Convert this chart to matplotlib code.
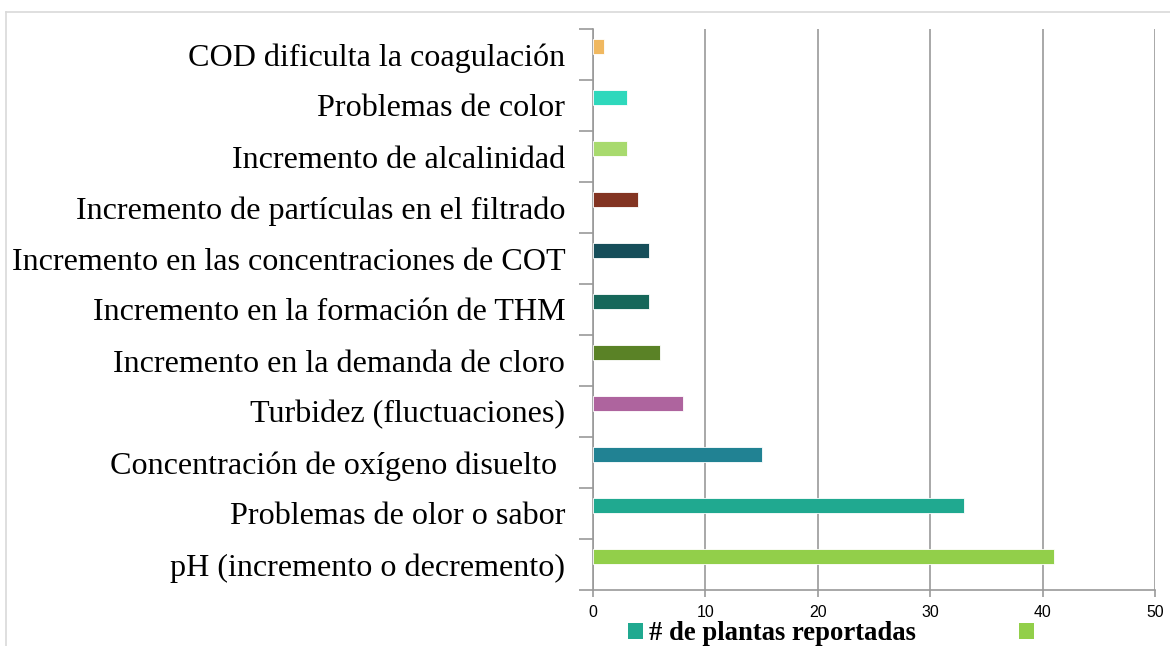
import matplotlib
matplotlib.use("Agg")
import matplotlib.pyplot as plt
from matplotlib.patches import Patch
from matplotlib.lines import Line2D

categories = [
    "pH (incremento o decremento)",
    "Problemas de olor o sabor",
    "Concentración de oxígeno disuelto ",
    "Turbidez (fluctuaciones)",
    "Incremento en la demanda de cloro",
    "Incremento en la formación de THM",
    "Incremento en las concentraciones de COT",
    "Incremento de partículas en el filtrado",
    "Incremento de alcalinidad",
    "Problemas de color",
    "COD dificulta la coagulación",
]
values = [41, 33, 15, 8, 6, 5, 5, 4, 3, 3, 1]
colors = ["#92CF4A", "#20A990", "#218293", "#AE649E", "#5A8226", "#16675A",
          "#164E5A", "#833422", "#A8DA6E", "#2ED8BC", "#F0B860"]
series_label = "# de plantas reportadas"
x_ticks = [0, 10, 20, 30, 40, 50]

fig = plt.figure(figsize=(11.7, 6.46), dpi=100)
ax = fig.add_axes([593/1170, 1-590/646, (1155-593)/1170, (590-29)/646])

pos = [i + 0.157 for i in range(len(categories))]
ax.barh(pos, values, height=0.29, color=colors, edgecolor="white", linewidth=0.6, zorder=3)

ax.set_xlim(0, 50)
ax.set_ylim(-0.5, len(categories) - 0.5)
ax.set_xticks(x_ticks)
ax.set_xticklabels([str(t) for t in x_ticks], fontfamily="Liberation Sans", fontsize=11.4)
ax.set_yticks(range(len(categories)))
ax.set_yticklabels(categories, fontfamily="Liberation Serif", fontsize=23.1)
ax.set_yticks([i - 0.5 for i in range(len(categories) + 1)], minor=True)
ax.tick_params(axis="y", which="major", length=0, pad=20)
ax.tick_params(axis="y", which="minor", length=10, color="#999999", width=1.2)
ax.tick_params(axis="x", which="major", length=5, color="#999999", width=1.2, pad=6)
ax.xaxis.grid(True, color="#999999", linewidth=1.2, zorder=0)
for s in ["top", "right"]:
    ax.spines[s].set_visible(False)
ax.spines["left"].set_color("#999999")
ax.spines["left"].set_linewidth(1.2)
ax.spines["bottom"].set_color("#999999")
ax.spines["bottom"].set_linewidth(1.2)

# outer border
fig.add_artist(Line2D([6/1170, 6/1170], [0, 1-12/646], transform=fig.transFigure, color="#D9D9D9", lw=1.2))
fig.add_artist(Line2D([6/1170, 1], [1-12/646, 1-12/646], transform=fig.transFigure, color="#D9D9D9", lw=1.2))

handles = [Patch(facecolor="#20A990"), Patch(facecolor="#92CF4A")]
leg = fig.legend(handles, [series_label, ""], loc="center left", bbox_to_anchor=(628/1170, 1-634/646),
                 ncol=2, frameon=False, handlelength=0.56, handleheight=0.56, handletextpad=0.22,
                 columnspacing=3.86, borderaxespad=0, borderpad=0,
                 prop={"family": "Liberation Serif", "weight": "bold", "size": 19.2})

fig.savefig("out.png", dpi=100)
